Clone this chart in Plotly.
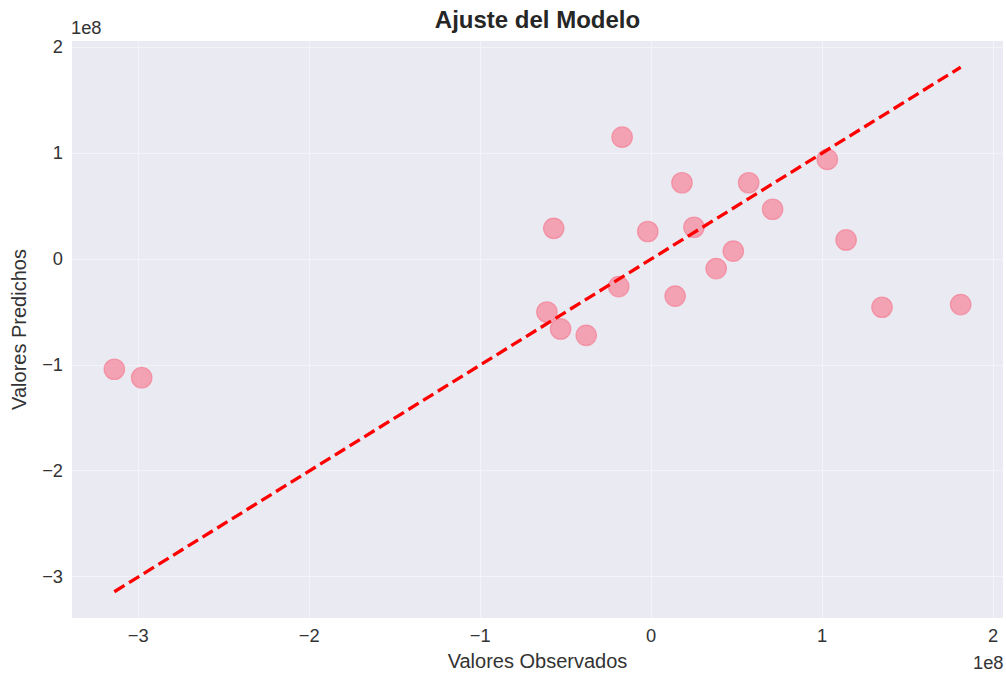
import plotly.graph_objects as go

# Observed and predicted values (raw units)
observed = [-3.14e8, -2.98e8, -0.61e8, -0.57e8, -0.53e8, -0.38e8, -0.19e8, -0.17e8,
            -0.02e8, 0.14e8, 0.18e8, 0.25e8, 0.38e8, 0.48e8, 0.57e8, 0.71e8,
            1.03e8, 1.14e8, 1.35e8, 1.81e8]
predicted = [-1.04e8, -1.12e8, -0.50e8, 0.29e8, -0.66e8, -0.72e8, -0.26e8, 1.15e8,
             0.26e8, -0.35e8, 0.72e8, 0.30e8, -0.09e8, 0.075e8, 0.72e8, 0.47e8,
             0.94e8, 0.18e8, -0.455e8, -0.43e8]

x_ticks = [-3e8, -2e8, -1e8, 0, 1e8, 2e8]
x_labels = ["\u22123", "\u22122", "\u22121", "0", "1", "2"]
y_ticks = [-3e8, -2e8, -1e8, 0, 1e8, 2e8]
y_labels = ["\u22123", "\u22122", "\u22121", "0", "1", "2"]

lo = min(observed)
hi = max(observed)

FONT = "Liberation Sans, Arial, sans-serif"
TICK = 18.3
LAB = 20
TXT = "#333333"
GRID = "#F3F3F8"

fig = go.Figure()
fig.add_trace(go.Scatter(
    x=observed, y=predicted, mode="markers",
    marker=dict(size=20.5, color="rgba(247,113,137,0.6)",
                line=dict(color="rgba(247,113,137,0.6)", width=1.2)),
    showlegend=False, hoverinfo="skip"))
fig.add_trace(go.Scatter(
    x=[lo, hi], y=[lo, hi], mode="lines",
    line=dict(color="#ff0000", width=3.3, dash="12px,5.3px"),
    showlegend=False, hoverinfo="skip"))

span_x = hi - lo
ymin = min(min(predicted), lo)
ymax = max(max(predicted), hi)
span_y = ymax - ymin

fig.update_layout(
    width=1006, height=675,
    margin=dict(l=72, r=3, t=41, b=57),
    paper_bgcolor="white", plot_bgcolor="#EAEAF2",
    font=dict(family=FONT, size=TICK, color=TXT),
    title=dict(text="<b>Ajuste del Modelo</b>", x=(72 + 1003) / 2 / 1006, xanchor="center",
               y=1 - 20 / 675, yanchor="middle",
               font=dict(size=24, color="#262626", family=FONT)),
    xaxis=dict(range=[lo - 0.05 * span_x, hi + 0.05 * span_x],
               tickvals=x_ticks, ticktext=x_labels,
               showgrid=True, gridcolor=GRID, gridwidth=1.2,
               zeroline=False, showline=False, ticks="", ticklabelstandoff=5,
               tickfont=dict(size=TICK, color=TXT),
               title=dict(text="Valores Observados", standoff=8,
                          font=dict(size=LAB, color=TXT))),
    yaxis=dict(range=[ymin - 0.05 * span_y, ymax + 0.05 * span_y],
               tickvals=y_ticks, ticktext=y_labels,
               showgrid=True, gridcolor=GRID, gridwidth=1.2,
               zeroline=False, showline=False, ticks="", ticklabelstandoff=8,
               tickfont=dict(size=TICK, color=TXT),
               title=dict(text="Valores Predichos", standoff=10,
                          font=dict(size=LAB, color=TXT))),
    annotations=[
        dict(text="1e8", xref="paper", yref="paper", x=0, y=1, xanchor="left",
             yanchor="middle", yshift=14, xshift=-3, showarrow=False,
             font=dict(size=TICK, color=TXT)),
        dict(text="1e8", xref="paper", yref="paper", x=1, y=0, xanchor="right",
             yanchor="middle", yshift=-44, xshift=3, showarrow=False,
             font=dict(size=TICK, color=TXT)),
    ],
)

fig.write_html("out.html")
